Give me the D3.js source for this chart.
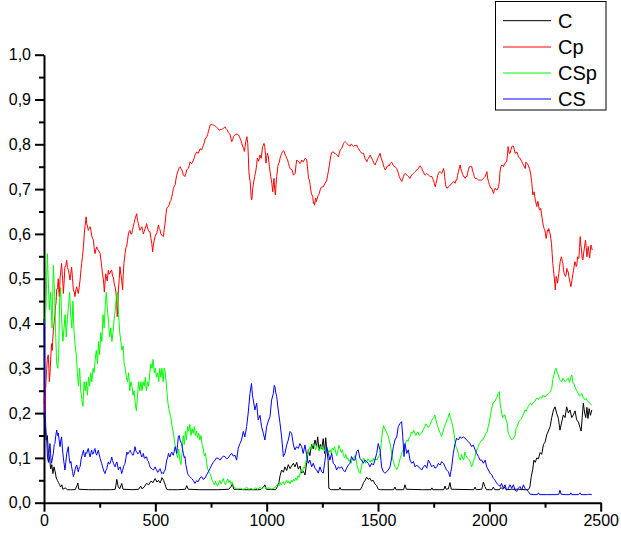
<!DOCTYPE html>
<html>
<head>
<meta charset="utf-8">
<script src="https://cdn.jsdelivr.net/npm/d3@7"></script>
<style>
  html, body { margin: 0; padding: 0; background: #fff; }
  svg { display: block; }
  text { font-family: "Liberation Sans", Arial, sans-serif; fill: #000; }
</style>
</head>
<body>
<svg id="chart" width="621" height="533"></svg>
<script>
// Series names and colours, in legend order
const seriesNames = ["C", "Cp", "CSp", "CS"];
const seriesColors = ["#000000", "#ff0000", "#00ff00", "#0000ff"];

// Axis ticks
const xMajorTicks = [0, 500, 1000, 1500, 2000, 2500];
const xMinorTicks = [250, 750, 1250, 1750, 2250];
const yMajorTicks = [0, 0.1, 0.2, 0.3, 0.4, 0.5, 0.6, 0.7, 0.8, 0.9, 1.0];
const yMinorTicks = [0.05, 0.15, 0.25, 0.35, 0.45, 0.55, 0.65, 0.75, 0.85, 0.95];

// C : [step, value]
const seriesC = [[0,0.2],[5,0.17],[10,0.14],[15,0.15],[20,0.11],[25,0.1],[30,0.075],[35,0.085],[40,0.065],[45,0.08],[50,0.07],[55,0.055],[60,0.05],[65,0.045],[70,0.04],[75,0.035],[80,0.04],[85,0.03],[95,0.033],[105,0.029],[120,0.029],[140,0.029],[148,0.038],[152,0.044],[156,0.03],[200,0.029],[260,0.029],[300,0.029],[320,0.03],[327,0.052],[333,0.036],[340,0.031],[349,0.043],[355,0.03],[400,0.029],[425,0.03],[434,0.037],[440,0.031],[450,0.035],[460,0.043],[470,0.04],[480,0.048],[490,0.045],[499,0.054],[507,0.046],[514,0.05],[522,0.044],[530,0.056],[537,0.05],[544,0.04],[551,0.03],[560,0.029],[600,0.029],[635,0.03],[641,0.038],[648,0.03],[700,0.029],[780,0.029],[830,0.03],[840,0.036],[846,0.042],[852,0.03],[900,0.029],[970,0.029],[985,0.034],[992,0.04],[998,0.03],[1040,0.029],[1048,0.036],[1055,0.045],[1060,0.06],[1067,0.073],[1075,0.068],[1082,0.08],[1090,0.072],[1097,0.085],[1105,0.076],[1112,0.082],[1120,0.088],[1127,0.08],[1135,0.09],[1142,0.075],[1150,0.082],[1157,0.066],[1165,0.07],[1172,0.062],[1180,0.09],[1187,0.118],[1194,0.105],[1202,0.13],[1209,0.12],[1217,0.14],[1224,0.125],[1229,0.147],[1235,0.118],[1241,0.13],[1247,0.12],[1254,0.143],[1260,0.11],[1265,0.145],[1271,0.115],[1276,0.095],[1279,0.032],[1290,0.029],[1325,0.029],[1329,0.034],[1334,0.029],[1420,0.029],[1428,0.036],[1435,0.045],[1442,0.05],[1449,0.057],[1456,0.052],[1463,0.055],[1471,0.048],[1478,0.05],[1486,0.042],[1494,0.038],[1501,0.03],[1510,0.029],[1570,0.029],[1576,0.035],[1581,0.029],[1615,0.029],[1621,0.04],[1627,0.03],[1700,0.029],[1738,0.029],[1742,0.033],[1746,0.029],[1795,0.029],[1801,0.037],[1806,0.03],[1816,0.031],[1823,0.045],[1829,0.03],[1930,0.029],[1936,0.035],[1941,0.029],[1966,0.03],[1973,0.046],[1980,0.036],[1987,0.029],[2012,0.029],[2018,0.035],[2024,0.029],[2045,0.029],[2052,0.034],[2060,0.03],[2067,0.035],[2075,0.029],[2100,0.03],[2130,0.03],[2160,0.029],[2175,0.029],[2182,0.035],[2188,0.058],[2195,0.075],[2200,0.095],[2206,0.09],[2213,0.1],[2220,0.098],[2228,0.112],[2235,0.108],[2243,0.13],[2250,0.135],[2258,0.152],[2265,0.16],[2273,0.17],[2280,0.19],[2288,0.207],[2295,0.214],[2302,0.2],[2310,0.188],[2317,0.162],[2325,0.18],[2332,0.196],[2340,0.19],[2347,0.214],[2355,0.2],[2362,0.207],[2370,0.19],[2377,0.196],[2385,0.205],[2392,0.185],[2400,0.18],[2407,0.168],[2412,0.16],[2417,0.19],[2422,0.222],[2428,0.2],[2433,0.19],[2438,0.213],[2443,0.188],[2448,0.21],[2454,0.195],[2460,0.207]];

// Cp : [step, value]
const seriesCp = [[0,0.22],[2,0.24],[4,0.2],[7,0.25],[9,0.27],[12,0.3],[15,0.32],[19,0.33],[22,0.3],[24,0.27],[27,0.29],[31,0.33],[34,0.355],[37,0.34],[39,0.36],[42,0.385],[45,0.4],[49,0.42],[52,0.44],[54,0.445],[57,0.475],[61,0.48],[64,0.5],[67,0.47],[69,0.46],[72,0.5],[76,0.52],[79,0.534],[82,0.51],[84,0.497],[87,0.467],[90,0.49],[94,0.526],[98,0.53],[102,0.541],[105,0.525],[109,0.52],[113,0.51],[117,0.497],[120,0.51],[124,0.526],[128,0.5],[132,0.475],[136,0.47],[139,0.46],[143,0.475],[147,0.482],[150,0.475],[154,0.467],[158,0.48],[162,0.497],[166,0.52],[169,0.534],[173,0.55],[177,0.571],[181,0.6],[184,0.616],[187,0.63],[189,0.638],[192,0.623],[196,0.615],[199,0.608],[203,0.612],[207,0.616],[210,0.61],[214,0.597],[218,0.59],[222,0.586],[225,0.57],[229,0.556],[233,0.565],[237,0.571],[240,0.566],[244,0.564],[248,0.56],[252,0.556],[256,0.54],[259,0.527],[263,0.51],[267,0.497],[271,0.47],[274,0.49],[277,0.511],[280,0.505],[284,0.495],[289,0.519],[292,0.51],[296,0.512],[300,0.518],[304,0.519],[308,0.505],[311,0.504],[315,0.49],[319,0.482],[323,0.47],[326,0.452],[329,0.415],[332,0.44],[334,0.475],[338,0.5],[341,0.527],[345,0.51],[349,0.497],[353,0.475],[356,0.51],[359,0.534],[364,0.556],[368,0.57],[371,0.571],[375,0.585],[379,0.6],[382,0.605],[386,0.608],[390,0.6],[394,0.6],[398,0.61],[401,0.616],[405,0.625],[409,0.634],[413,0.64],[416,0.645],[420,0.63],[424,0.623],[427,0.615],[431,0.608],[435,0.612],[439,0.616],[443,0.608],[446,0.6],[450,0.605],[454,0.612],[458,0.618],[461,0.623],[465,0.613],[469,0.608],[472,0.605],[476,0.605],[480,0.59],[484,0.579],[488,0.56],[491,0.575],[495,0.585],[499,0.594],[503,0.6],[506,0.6],[510,0.61],[514,0.62],[518,0.612],[521,0.609],[525,0.6],[529,0.597],[533,0.595],[536,0.594],[540,0.61],[544,0.624],[548,0.645],[551,0.657],[555,0.66],[559,0.661],[563,0.666],[566,0.672],[570,0.675],[574,0.683],[577,0.69],[581,0.702],[585,0.706],[589,0.71],[592,0.72],[596,0.731],[600,0.738],[604,0.743],[607,0.748],[611,0.75],[615,0.746],[619,0.743],[622,0.738],[626,0.731],[630,0.73],[633,0.728],[637,0.735],[641,0.743],[645,0.745],[648,0.746],[652,0.752],[656,0.761],[660,0.758],[663,0.757],[667,0.76],[671,0.765],[675,0.77],[678,0.776],[682,0.78],[686,0.783],[690,0.78],[693,0.78],[697,0.785],[701,0.79],[705,0.789],[708,0.787],[712,0.793],[716,0.798],[720,0.804],[723,0.81],[727,0.814],[731,0.817],[735,0.822],[738,0.828],[742,0.835],[746,0.843],[750,0.844],[753,0.845],[757,0.843],[761,0.843],[765,0.842],[768,0.841],[772,0.84],[776,0.838],[780,0.836],[783,0.833],[787,0.832],[791,0.832],[795,0.834],[798,0.833],[802,0.834],[806,0.836],[810,0.838],[813,0.839],[817,0.835],[821,0.833],[825,0.83],[828,0.826],[832,0.824],[836,0.821],[840,0.812],[843,0.806],[847,0.81],[851,0.817],[855,0.82],[858,0.821],[862,0.822],[866,0.823],[870,0.822],[873,0.821],[877,0.818],[881,0.813],[885,0.808],[888,0.802],[892,0.796],[896,0.791],[900,0.784],[903,0.795],[906,0.806],[909,0.812],[911,0.817],[913,0.81],[915,0.802],[918,0.77],[920,0.739],[923,0.725],[926,0.717],[928,0.7],[930,0.683],[932,0.676],[934,0.679],[937,0.7],[940,0.71],[943,0.72],[946,0.728],[949,0.735],[952,0.743],[955,0.755],[958,0.769],[961,0.766],[964,0.762],[967,0.77],[970,0.776],[973,0.77],[976,0.769],[979,0.785],[982,0.795],[985,0.798],[988,0.802],[991,0.795],[993,0.787],[995,0.775],[997,0.758],[1000,0.77],[1003,0.78],[1006,0.775],[1008,0.772],[1010,0.76],[1012,0.75],[1015,0.74],[1018,0.728],[1021,0.72],[1023,0.713],[1025,0.705],[1027,0.694],[1030,0.71],[1033,0.724],[1036,0.7],[1039,0.687],[1042,0.71],[1045,0.728],[1048,0.74],[1050,0.75],[1054,0.758],[1057,0.76],[1060,0.769],[1064,0.775],[1068,0.78],[1072,0.784],[1075,0.786],[1079,0.783],[1083,0.776],[1087,0.773],[1090,0.769],[1094,0.765],[1098,0.757],[1102,0.75],[1105,0.746],[1109,0.745],[1113,0.743],[1117,0.738],[1120,0.731],[1124,0.733],[1128,0.735],[1132,0.755],[1135,0.765],[1139,0.763],[1143,0.761],[1147,0.76],[1150,0.757],[1154,0.76],[1158,0.765],[1161,0.762],[1165,0.761],[1169,0.765],[1173,0.769],[1177,0.767],[1180,0.765],[1183,0.75],[1186,0.735],[1188,0.724],[1192,0.72],[1195,0.71],[1198,0.698],[1201,0.69],[1203,0.687],[1207,0.683],[1210,0.668],[1213,0.67],[1215,0.664],[1218,0.675],[1220,0.68],[1223,0.672],[1225,0.676],[1229,0.683],[1232,0.686],[1236,0.69],[1240,0.698],[1244,0.703],[1247,0.705],[1251,0.705],[1255,0.705],[1258,0.709],[1262,0.713],[1266,0.716],[1270,0.72],[1273,0.73],[1277,0.739],[1281,0.752],[1285,0.765],[1288,0.775],[1292,0.781],[1296,0.783],[1300,0.783],[1303,0.78],[1307,0.78],[1311,0.778],[1315,0.776],[1318,0.774],[1322,0.772],[1326,0.78],[1330,0.787],[1333,0.789],[1337,0.791],[1341,0.796],[1345,0.802],[1348,0.804],[1352,0.806],[1356,0.804],[1360,0.802],[1363,0.8],[1367,0.798],[1371,0.797],[1375,0.796],[1378,0.8],[1382,0.8],[1386,0.797],[1390,0.795],[1393,0.797],[1397,0.798],[1401,0.797],[1405,0.798],[1408,0.793],[1412,0.791],[1416,0.787],[1420,0.784],[1423,0.783],[1427,0.78],[1431,0.78],[1435,0.78],[1438,0.775],[1442,0.768],[1446,0.765],[1450,0.761],[1453,0.766],[1457,0.769],[1461,0.772],[1465,0.776],[1468,0.772],[1472,0.769],[1476,0.764],[1480,0.76],[1483,0.756],[1487,0.754],[1491,0.76],[1494,0.761],[1498,0.768],[1502,0.772],[1506,0.776],[1509,0.78],[1513,0.771],[1517,0.765],[1521,0.76],[1524,0.754],[1528,0.748],[1532,0.743],[1536,0.746],[1539,0.75],[1543,0.75],[1547,0.754],[1551,0.752],[1554,0.757],[1558,0.759],[1562,0.76],[1565,0.756],[1569,0.753],[1573,0.75],[1577,0.75],[1580,0.748],[1584,0.746],[1588,0.74],[1592,0.735],[1595,0.728],[1599,0.724],[1603,0.72],[1607,0.717],[1610,0.722],[1614,0.728],[1618,0.733],[1622,0.735],[1625,0.733],[1629,0.731],[1633,0.73],[1637,0.728],[1640,0.725],[1644,0.724],[1648,0.73],[1652,0.731],[1655,0.733],[1659,0.735],[1663,0.737],[1667,0.739],[1670,0.74],[1674,0.743],[1678,0.745],[1682,0.746],[1685,0.75],[1689,0.752],[1693,0.749],[1697,0.746],[1700,0.74],[1704,0.739],[1708,0.733],[1712,0.731],[1715,0.733],[1719,0.735],[1723,0.733],[1727,0.731],[1730,0.73],[1734,0.728],[1738,0.728],[1742,0.728],[1745,0.724],[1749,0.72],[1753,0.712],[1757,0.705],[1760,0.712],[1764,0.72],[1768,0.73],[1771,0.735],[1775,0.738],[1779,0.739],[1782,0.737],[1786,0.735],[1790,0.74],[1794,0.746],[1797,0.74],[1799,0.728],[1801,0.72],[1803,0.71],[1806,0.705],[1809,0.702],[1813,0.703],[1816,0.705],[1820,0.707],[1824,0.709],[1827,0.71],[1831,0.713],[1835,0.714],[1839,0.717],[1842,0.716],[1846,0.713],[1850,0.72],[1854,0.72],[1857,0.73],[1861,0.739],[1865,0.747],[1869,0.754],[1872,0.745],[1876,0.739],[1880,0.733],[1884,0.728],[1887,0.728],[1891,0.724],[1895,0.728],[1899,0.728],[1902,0.735],[1906,0.743],[1910,0.75],[1914,0.751],[1917,0.75],[1921,0.75],[1925,0.74],[1929,0.735],[1932,0.728],[1936,0.724],[1940,0.724],[1944,0.724],[1947,0.722],[1951,0.72],[1955,0.72],[1959,0.72],[1962,0.72],[1966,0.72],[1970,0.722],[1973,0.724],[1977,0.726],[1981,0.728],[1985,0.733],[1989,0.739],[1992,0.725],[1996,0.717],[2000,0.71],[2004,0.705],[2007,0.702],[2011,0.702],[2015,0.695],[2019,0.69],[2022,0.697],[2026,0.702],[2030,0.699],[2034,0.698],[2037,0.7],[2041,0.705],[2045,0.717],[2047,0.735],[2049,0.743],[2052,0.75],[2056,0.754],[2060,0.752],[2064,0.75],[2067,0.756],[2071,0.757],[2075,0.761],[2078,0.762],[2082,0.78],[2084,0.795],[2086,0.79],[2089,0.78],[2093,0.78],[2097,0.788],[2101,0.795],[2104,0.796],[2108,0.796],[2112,0.788],[2116,0.78],[2119,0.78],[2123,0.783],[2127,0.778],[2131,0.772],[2134,0.77],[2138,0.769],[2142,0.765],[2146,0.761],[2149,0.757],[2153,0.754],[2157,0.75],[2161,0.746],[2164,0.76],[2167,0.758],[2171,0.757],[2175,0.752],[2180,0.746],[2183,0.74],[2186,0.732],[2189,0.72],[2191,0.713],[2193,0.7],[2195,0.687],[2198,0.69],[2201,0.694],[2204,0.683],[2207,0.672],[2210,0.668],[2213,0.661],[2216,0.672],[2219,0.672],[2222,0.66],[2225,0.653],[2228,0.655],[2231,0.657],[2234,0.645],[2237,0.635],[2240,0.625],[2243,0.616],[2246,0.612],[2249,0.609],[2252,0.6],[2255,0.59],[2258,0.598],[2261,0.609],[2264,0.606],[2267,0.612],[2270,0.605],[2273,0.6],[2276,0.59],[2279,0.579],[2282,0.556],[2285,0.534],[2288,0.52],[2291,0.504],[2294,0.49],[2296,0.475],[2298,0.49],[2300,0.505],[2303,0.5],[2306,0.49],[2309,0.5],[2312,0.512],[2315,0.525],[2318,0.538],[2321,0.545],[2324,0.549],[2327,0.54],[2330,0.534],[2333,0.52],[2336,0.512],[2339,0.508],[2342,0.505],[2345,0.51],[2348,0.523],[2351,0.516],[2354,0.516],[2357,0.505],[2360,0.497],[2363,0.49],[2366,0.482],[2369,0.49],[2372,0.5],[2375,0.51],[2378,0.519],[2381,0.528],[2384,0.538],[2387,0.535],[2390,0.527],[2393,0.53],[2396,0.549],[2399,0.545],[2402,0.546],[2405,0.57],[2408,0.594],[2411,0.575],[2414,0.564],[2417,0.545],[2420,0.542],[2423,0.555],[2426,0.566],[2429,0.578],[2432,0.586],[2435,0.57],[2438,0.549],[2441,0.56],[2444,0.572],[2447,0.56],[2450,0.546],[2453,0.56],[2456,0.575],[2459,0.57],[2462,0.564]];

// CSp : [step, value]
const seriesCSp = [[0,0.4],[4,0.4],[9,0.44],[12,0.5],[15,0.556],[19,0.5],[24,0.43],[30,0.47],[36,0.39],[42,0.53],[48,0.46],[52,0.38],[57,0.31],[62,0.3],[66,0.33],[70,0.45],[75,0.48],[80,0.4],[85,0.36],[90,0.39],[95,0.42],[100,0.37],[105,0.41],[110,0.44],[115,0.47],[120,0.42],[125,0.39],[130,0.45],[135,0.38],[140,0.35],[145,0.33],[150,0.29],[155,0.26],[160,0.3],[165,0.25],[170,0.23],[175,0.215],[180,0.27],[185,0.25],[190,0.27],[195,0.24],[200,0.28],[205,0.26],[210,0.29],[215,0.27],[220,0.3],[225,0.29],[230,0.32],[235,0.34],[240,0.31],[245,0.36],[250,0.33],[255,0.38],[260,0.36],[265,0.42],[270,0.39],[275,0.44],[280,0.47],[285,0.43],[290,0.4],[295,0.37],[300,0.39],[305,0.36],[310,0.38],[315,0.41],[320,0.43],[325,0.46],[330,0.47],[335,0.42],[340,0.38],[345,0.36],[350,0.34],[355,0.35],[360,0.31],[365,0.3],[370,0.28],[375,0.27],[380,0.29],[385,0.25],[390,0.27],[395,0.26],[400,0.24],[405,0.25],[410,0.22],[415,0.205],[420,0.24],[425,0.27],[430,0.25],[435,0.27],[440,0.25],[445,0.27],[450,0.26],[455,0.28],[460,0.25],[465,0.27],[470,0.26],[475,0.29],[480,0.31],[485,0.3],[490,0.32],[495,0.29],[500,0.3],[505,0.28],[510,0.29],[515,0.27],[520,0.3],[525,0.28],[530,0.3],[535,0.27],[540,0.3],[545,0.29],[550,0.26],[555,0.23],[560,0.21],[565,0.2],[570,0.19],[575,0.17],[580,0.16],[585,0.14],[590,0.125],[595,0.11],[600,0.1],[605,0.12],[610,0.095],[615,0.085],[620,0.11],[625,0.15],[630,0.13],[635,0.16],[640,0.14],[645,0.17],[650,0.16],[655,0.175],[660,0.15],[665,0.165],[670,0.155],[675,0.17],[680,0.15],[685,0.16],[690,0.145],[695,0.155],[700,0.14],[705,0.15],[710,0.13],[715,0.12],[720,0.105],[725,0.11],[730,0.09],[735,0.075],[740,0.07],[745,0.065],[750,0.058],[755,0.05],[760,0.045],[765,0.04],[770,0.048],[775,0.04],[780,0.037],[785,0.045],[790,0.05],[795,0.042],[800,0.047],[805,0.054],[810,0.045],[815,0.04],[820,0.048],[825,0.053],[830,0.045],[835,0.05],[840,0.042],[845,0.046],[850,0.038],[855,0.035],[860,0.032],[870,0.03],[880,0.033],[890,0.03],[900,0.031],[910,0.034],[920,0.03],[930,0.032],[940,0.029],[950,0.033],[960,0.03],[970,0.034],[980,0.031],[990,0.036],[1000,0.032],[1010,0.033],[1020,0.03],[1030,0.032],[1040,0.035],[1050,0.042],[1055,0.038],[1060,0.045],[1065,0.04],[1070,0.043],[1075,0.047],[1080,0.04],[1085,0.046],[1090,0.05],[1095,0.044],[1100,0.048],[1105,0.042],[1110,0.05],[1115,0.046],[1120,0.052],[1125,0.048],[1130,0.055],[1135,0.05],[1140,0.06],[1145,0.056],[1150,0.065],[1155,0.072],[1160,0.068],[1165,0.08],[1170,0.077],[1175,0.09],[1180,0.1],[1185,0.11],[1190,0.118],[1195,0.125],[1200,0.12],[1205,0.13],[1210,0.133],[1215,0.125],[1220,0.118],[1225,0.128],[1230,0.125],[1235,0.115],[1240,0.12],[1245,0.126],[1250,0.118],[1255,0.124],[1260,0.115],[1265,0.12],[1270,0.125],[1275,0.117],[1280,0.113],[1285,0.118],[1290,0.11],[1295,0.122],[1300,0.118],[1305,0.125],[1310,0.112],[1315,0.105],[1320,0.118],[1325,0.128],[1330,0.12],[1335,0.112],[1340,0.118],[1345,0.105],[1350,0.1],[1355,0.108],[1360,0.098],[1365,0.1],[1370,0.092],[1375,0.095],[1380,0.088],[1385,0.1],[1390,0.096],[1395,0.105],[1400,0.1],[1405,0.085],[1410,0.075],[1415,0.068],[1420,0.065],[1425,0.08],[1430,0.09],[1435,0.1],[1440,0.095],[1445,0.088],[1450,0.092],[1455,0.098],[1460,0.094],[1465,0.09],[1470,0.096],[1475,0.092],[1480,0.1],[1485,0.094],[1490,0.098],[1495,0.095],[1500,0.1],[1505,0.105],[1510,0.11],[1515,0.135],[1520,0.16],[1525,0.172],[1530,0.165],[1535,0.16],[1540,0.155],[1545,0.15],[1550,0.14],[1555,0.13],[1560,0.115],[1565,0.1],[1570,0.09],[1575,0.082],[1580,0.078],[1585,0.074],[1590,0.08],[1595,0.09],[1600,0.1],[1605,0.108],[1610,0.115],[1615,0.12],[1620,0.13],[1625,0.135],[1630,0.14],[1635,0.137],[1640,0.145],[1645,0.148],[1650,0.158],[1655,0.155],[1660,0.162],[1665,0.155],[1670,0.15],[1675,0.156],[1680,0.158],[1685,0.15],[1690,0.153],[1695,0.155],[1700,0.16],[1705,0.165],[1710,0.17],[1715,0.176],[1720,0.172],[1725,0.168],[1730,0.17],[1735,0.175],[1740,0.183],[1745,0.187],[1750,0.19],[1755,0.196],[1760,0.185],[1765,0.175],[1770,0.168],[1775,0.16],[1780,0.155],[1785,0.148],[1790,0.155],[1795,0.165],[1800,0.172],[1805,0.178],[1810,0.185],[1815,0.19],[1820,0.2],[1825,0.19],[1830,0.182],[1835,0.172],[1840,0.158],[1845,0.14],[1850,0.125],[1855,0.12],[1860,0.11],[1865,0.1],[1870,0.095],[1875,0.108],[1880,0.1],[1885,0.096],[1890,0.113],[1895,0.105],[1900,0.1],[1905,0.098],[1910,0.096],[1915,0.09],[1920,0.08],[1925,0.086],[1930,0.095],[1935,0.1],[1940,0.113],[1945,0.12],[1950,0.125],[1955,0.132],[1960,0.135],[1965,0.14],[1970,0.14],[1975,0.145],[1980,0.15],[1985,0.155],[1990,0.158],[1995,0.17],[2000,0.18],[2005,0.195],[2010,0.21],[2015,0.22],[2020,0.225],[2025,0.226],[2030,0.232],[2035,0.236],[2040,0.244],[2045,0.248],[2048,0.222],[2052,0.21],[2055,0.2],[2060,0.19],[2065,0.195],[2070,0.196],[2075,0.185],[2080,0.178],[2085,0.155],[2090,0.15],[2095,0.145],[2100,0.14],[2105,0.143],[2110,0.145],[2115,0.15],[2120,0.165],[2125,0.17],[2130,0.178],[2135,0.183],[2140,0.185],[2145,0.188],[2150,0.195],[2155,0.2],[2160,0.207],[2165,0.204],[2170,0.21],[2175,0.215],[2180,0.22],[2185,0.222],[2190,0.218],[2195,0.222],[2200,0.225],[2205,0.226],[2210,0.232],[2215,0.233],[2220,0.23],[2225,0.235],[2230,0.236],[2235,0.233],[2240,0.24],[2245,0.238],[2250,0.236],[2255,0.24],[2260,0.24],[2265,0.244],[2270,0.246],[2275,0.25],[2280,0.255],[2285,0.275],[2290,0.285],[2295,0.296],[2300,0.3],[2305,0.29],[2310,0.285],[2315,0.275],[2320,0.272],[2325,0.27],[2330,0.278],[2335,0.274],[2340,0.27],[2345,0.273],[2350,0.276],[2355,0.278],[2360,0.268],[2365,0.278],[2370,0.285],[2375,0.268],[2380,0.265],[2385,0.258],[2390,0.252],[2395,0.248],[2400,0.243],[2405,0.238],[2410,0.24],[2415,0.244],[2420,0.236],[2425,0.232],[2430,0.23],[2435,0.233],[2440,0.228],[2445,0.225],[2450,0.222],[2455,0.22],[2460,0.218]];

// CS : [step, value]
const seriesCS = [[0,0.41],[2,0.3],[4,0.22],[7,0.18],[10,0.15],[12,0.14],[16,0.1],[20,0.09],[24,0.12],[27,0.132],[31,0.1],[34,0.088],[38,0.1],[42,0.11],[46,0.13],[49,0.132],[53,0.15],[57,0.162],[61,0.15],[64,0.155],[68,0.14],[72,0.125],[76,0.14],[79,0.147],[83,0.12],[87,0.1],[91,0.085],[94,0.073],[98,0.09],[102,0.11],[106,0.118],[109,0.125],[113,0.1],[117,0.088],[121,0.092],[124,0.08],[128,0.07],[132,0.058],[136,0.065],[139,0.073],[143,0.08],[147,0.084],[151,0.075],[154,0.069],[158,0.078],[162,0.08],[166,0.095],[169,0.102],[173,0.11],[177,0.117],[181,0.105],[184,0.102],[188,0.112],[192,0.11],[196,0.118],[199,0.121],[203,0.11],[207,0.102],[211,0.112],[214,0.117],[218,0.108],[222,0.11],[226,0.118],[229,0.121],[233,0.11],[237,0.106],[241,0.114],[244,0.117],[248,0.108],[252,0.099],[256,0.092],[259,0.088],[263,0.08],[267,0.073],[271,0.068],[274,0.065],[278,0.072],[282,0.076],[286,0.085],[289,0.091],[293,0.086],[297,0.088],[301,0.095],[304,0.102],[308,0.094],[312,0.088],[316,0.083],[319,0.08],[323,0.086],[327,0.091],[331,0.082],[334,0.073],[338,0.078],[342,0.08],[346,0.072],[349,0.065],[353,0.072],[357,0.08],[361,0.085],[364,0.088],[368,0.1],[372,0.113],[376,0.108],[379,0.11],[383,0.114],[387,0.117],[391,0.112],[394,0.11],[398,0.106],[402,0.107],[406,0.118],[409,0.125],[413,0.115],[417,0.113],[421,0.109],[424,0.11],[428,0.113],[431,0.117],[435,0.108],[439,0.102],[443,0.105],[446,0.11],[450,0.1],[454,0.099],[458,0.103],[461,0.102],[465,0.094],[469,0.092],[473,0.085],[476,0.08],[480,0.077],[484,0.076],[488,0.074],[491,0.073],[495,0.076],[499,0.08],[503,0.075],[506,0.073],[510,0.068],[514,0.069],[518,0.074],[521,0.076],[525,0.07],[529,0.065],[533,0.067],[536,0.065],[540,0.07],[544,0.073],[548,0.085],[551,0.095],[555,0.1],[559,0.11],[563,0.104],[566,0.102],[570,0.11],[574,0.113],[578,0.107],[581,0.106],[585,0.115],[589,0.125],[593,0.118],[596,0.11],[600,0.13],[603,0.147],[607,0.15],[611,0.14],[615,0.135],[618,0.132],[622,0.12],[626,0.11],[630,0.1],[633,0.103],[637,0.085],[641,0.075],[645,0.065],[648,0.062],[655,0.058],[663,0.054],[670,0.05],[678,0.043],[685,0.049],[693,0.047],[700,0.055],[708,0.058],[715,0.052],[723,0.055],[730,0.062],[738,0.069],[745,0.076],[753,0.084],[760,0.09],[768,0.095],[775,0.1],[783,0.099],[790,0.095],[798,0.1],[805,0.104],[813,0.103],[820,0.098],[828,0.1],[835,0.106],[843,0.11],[850,0.104],[858,0.106],[865,0.095],[872,0.121],[880,0.132],[887,0.14],[895,0.159],[902,0.147],[910,0.17],[917,0.2],[925,0.244],[932,0.266],[936,0.24],[940,0.229],[947,0.207],[955,0.222],[962,0.185],[970,0.195],[977,0.17],[985,0.155],[992,0.14],[1000,0.17],[1007,0.182],[1015,0.192],[1022,0.229],[1030,0.244],[1034,0.262],[1037,0.259],[1041,0.245],[1045,0.237],[1052,0.207],[1060,0.177],[1067,0.147],[1072,0.12],[1075,0.103],[1082,0.11],[1090,0.129],[1097,0.14],[1105,0.159],[1112,0.155],[1120,0.129],[1127,0.118],[1134,0.125],[1142,0.121],[1149,0.132],[1157,0.125],[1164,0.11],[1172,0.129],[1179,0.107],[1187,0.088],[1194,0.095],[1202,0.08],[1209,0.088],[1217,0.077],[1224,0.073],[1232,0.066],[1239,0.08],[1247,0.069],[1254,0.066],[1262,0.095],[1269,0.125],[1277,0.11],[1284,0.095],[1292,0.11],[1299,0.088],[1307,0.084],[1314,0.073],[1322,0.08],[1329,0.077],[1337,0.08],[1344,0.073],[1352,0.069],[1359,0.077],[1367,0.084],[1374,0.088],[1381,0.103],[1389,0.095],[1396,0.095],[1404,0.114],[1411,0.118],[1419,0.099],[1426,0.095],[1434,0.088],[1441,0.095],[1449,0.092],[1456,0.088],[1464,0.08],[1471,0.088],[1479,0.084],[1486,0.095],[1494,0.11],[1501,0.132],[1509,0.118],[1516,0.08],[1524,0.069],[1531,0.066],[1539,0.069],[1546,0.073],[1554,0.08],[1561,0.1],[1569,0.125],[1576,0.14],[1584,0.147],[1591,0.17],[1599,0.177],[1606,0.181],[1611,0.148],[1617,0.103],[1621,0.132],[1629,0.11],[1636,0.118],[1644,0.095],[1651,0.088],[1659,0.092],[1666,0.08],[1674,0.084],[1681,0.08],[1689,0.077],[1696,0.073],[1704,0.08],[1711,0.084],[1719,0.077],[1726,0.095],[1734,0.088],[1741,0.08],[1749,0.084],[1756,0.077],[1764,0.08],[1771,0.088],[1779,0.084],[1786,0.092],[1794,0.088],[1801,0.08],[1808,0.073],[1816,0.069],[1823,0.058],[1831,0.08],[1838,0.11],[1846,0.132],[1853,0.144],[1861,0.14],[1868,0.147],[1876,0.144],[1883,0.147],[1891,0.144],[1898,0.14],[1906,0.136],[1913,0.132],[1921,0.125],[1928,0.129],[1936,0.118],[1943,0.11],[1951,0.103],[1958,0.095],[1966,0.095],[1973,0.088],[1981,0.095],[1988,0.08],[1996,0.073],[2003,0.066],[2011,0.062],[2018,0.054],[2026,0.05],[2033,0.043],[2041,0.04],[2048,0.036],[2055,0.043],[2063,0.032],[2070,0.04],[2078,0.028],[2085,0.032],[2093,0.04],[2100,0.032],[2108,0.04],[2115,0.028],[2123,0.025],[2130,0.032],[2138,0.036],[2145,0.028],[2153,0.04],[2160,0.032],[2168,0.028],[2175,0.025],[2183,0.019],[2200,0.018],[2215,0.018],[2220,0.022],[2225,0.018],[2260,0.018],[2300,0.018],[2312,0.019],[2317,0.028],[2322,0.019],[2340,0.018],[2362,0.018],[2366,0.022],[2370,0.018],[2400,0.018],[2407,0.022],[2412,0.018],[2440,0.018],[2447,0.019],[2460,0.018]];

const allSeries = [seriesC, seriesCp, seriesCSp, seriesCS];

const svg = d3.select("#chart");
svg.append("rect").attr("width", 621).attr("height", 533).attr("fill", "#fff");

const x = d3.scaleLinear().domain([0, 2500]).range([44, 600.7]);
const y = d3.scaleLinear().domain([0, 1]).range([502.7, 54.7]);

const commaFmt = v => d3.format(".1f")(v).replace(".", ",");

// Minor ticks (no labels)
svg.append("g")
  .attr("transform", `translate(0,${y(0)})`)
  .call(d3.axisBottom(x).tickValues(xMinorTicks).tickSize(5).tickFormat(""))
  .call(g => g.select(".domain").remove())
  .call(g => g.selectAll("line").attr("stroke-width", 2));
svg.append("g")
  .attr("transform", `translate(${x(0)},0)`)
  .call(d3.axisLeft(y).tickValues(yMinorTicks).tickSize(5).tickFormat(""))
  .call(g => g.select(".domain").remove())
  .call(g => g.selectAll("line").attr("stroke-width", 2));

// Major axes
const xAxis = svg.append("g")
  .attr("transform", `translate(0,${y(0)})`)
  .call(d3.axisBottom(x).tickValues(xMajorTicks).tickSize(9).tickSizeOuter(0).tickPadding(3).tickFormat(d3.format("d")));
const yAxis = svg.append("g")
  .attr("transform", `translate(${x(0)},0)`)
  .call(d3.axisLeft(y).tickValues(yMajorTicks).tickSize(9).tickSizeOuter(0).tickPadding(4).tickFormat(commaFmt));

[xAxis, yAxis].forEach(g => {
  g.select(".domain").attr("stroke-width", 2);
  g.selectAll(".tick line").attr("stroke-width", 2);
  g.selectAll("text")
    .style("font-family", "'Liberation Sans', Arial, sans-serif")
    .style("font-size", "16px")
    .attr("fill", "#000");
});

// Data lines
const line = d3.line().x(d => x(d[0])).y(d => y(d[1]));
allSeries.forEach((s, i) => {
  svg.append("path")
    .datum(s)
    .attr("fill", "none")
    .attr("stroke", seriesColors[i])
    .attr("stroke-width", 1)
    .attr("stroke-linejoin", "round")
    .attr("d", line);
});

// Legend
const legend = svg.append("g");
legend.append("rect")
  .attr("x", 495.5).attr("y", 1.5).attr("width", 110.5).attr("height", 108.5)
  .attr("fill", "#fff").attr("stroke", "#000").attr("stroke-width", 1);
const legendRows = [20.7, 47, 73, 99];
seriesNames.forEach((name, i) => {
  legend.append("line")
    .attr("x1", 503).attr("x2", 551)
    .attr("y1", legendRows[i]).attr("y2", legendRows[i])
    .attr("stroke", seriesColors[i]).attr("stroke-width", 1);
  legend.append("text")
    .attr("x", 558).attr("y", legendRows[i] + 7.4)
    .style("font-size", "20px")
    .text(name);
});
</script>
</body>
</html>
